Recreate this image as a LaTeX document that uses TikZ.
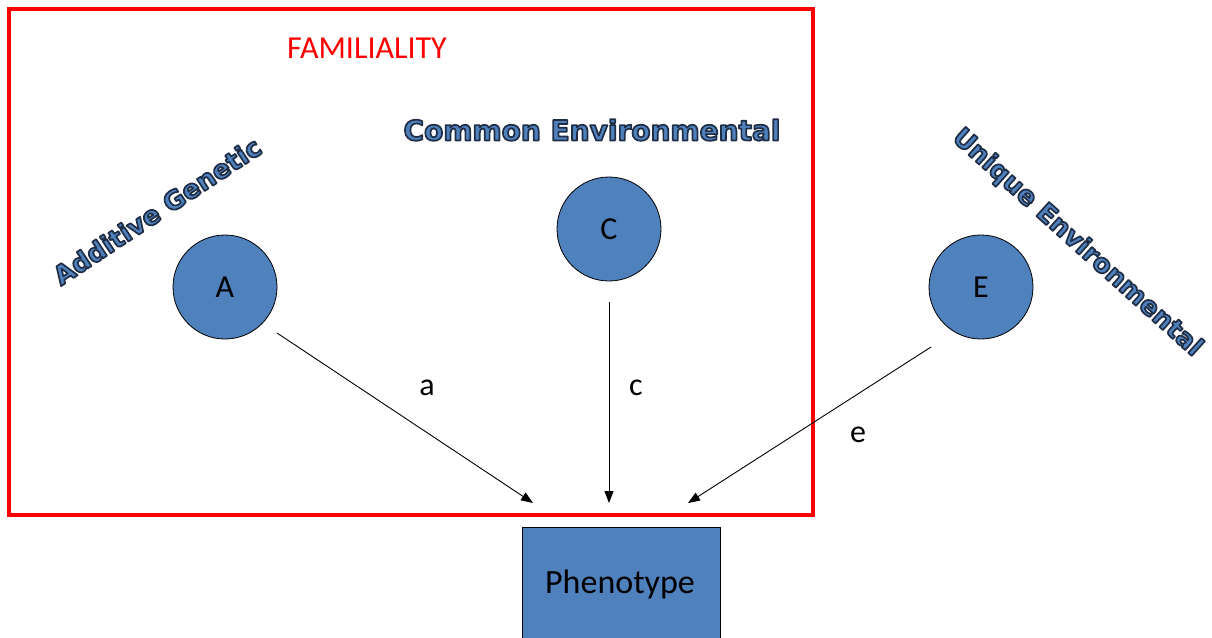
\documentclass[tikz,border=0pt]{standalone}
\usepackage{fontspec}
\setmainfont{Carlito}
\newfontfamily\artfont{DejaVu Sans}[BoldFont={DejaVu Sans Bold}]
\usetikzlibrary{arrows.meta}
\definecolor{offblue}{HTML}{4F81BD}
\definecolor{artedge}{HTML}{1F2F45}
\definecolor{famred}{HTML}{FF0000}
\tikzset{
  factor/.style={circle,draw=black,line width=0.8pt,fill=offblue,minimum size=104pt,inner sep=0pt,font=\fontsize{32}{36}\selectfont},
  pheno/.style={rectangle,draw=black,line width=0.8pt,fill=offblue,minimum width=198pt,minimum height=120pt,inner sep=0pt},
  conn/.style={draw=black,line width=0.9pt,-{Triangle[length=12pt,width=9pt]}},
  plabel/.style={font=\fontsize{32}{36}\selectfont},
  art/.style={font=\artfont\bfseries\fontsize{26}{30}\selectfont,inner sep=0pt},
  fam/.style={draw=famred,line width=4pt}
}
\newcommand{\arttext}[1]{\textcolor{offblue}{\special{pdf:code 2 Tr 1.7 w 1 j 0.12 0.18 0.27 RG}#1\special{pdf:code 0 Tr}}}
\begin{document}
\begin{tikzpicture}[x=1pt,y=-1pt]
\useasboundingbox (0,0) rectangle (1212,637);
\fill[white] (0,0) rectangle (1212,637);
% familiality box
\draw[fam] (9,9) rectangle (813,515);
\node[text=famred,font=\fontsize{32}{36}\selectfont] (famlab) at (367,48) {FAMILIALITY};
% phenotype box (cut at bottom edge)
\begin{scope}
\clip (0,0) rectangle (1212,637);
\node[pheno] (P) at (621,587) {};
\end{scope}
\node[font=\fontsize{34}{38}\selectfont] (ptext) at (620,584) {Phenotype};
% factors
\node[factor] (A) at (225,287) {A};
\node[factor] (C) at (609,229) {C};
\node[factor] (E) at (981,287) {E};
% wordart labels
\node[art,rotate=33.5] (artA) at (157,211) {\arttext{Additive Genetic}};
\node[art,font=\artfont\bfseries\fontsize{28}{32}\selectfont] (artC) at (592,130) {\arttext{Common Environmental}};
\node[art,rotate=-42] (artE) at (1077,243) {\arttext{Unique Environmental}};
% connector end points
\coordinate (a0) at (277,333);
\coordinate (a1) at (533,503);
\coordinate (c0) at (609,302);
\coordinate (c1) at (609,503);
\coordinate (e0) at (931,347);
\coordinate (e1) at (688,503);
\draw[conn] (a0) -- (a1);
\draw[conn] (c0) -- (c1);
\draw[conn] (e0) -- (e1);
\node[plabel] (la) at (427,388) {a};
\node[plabel] (lc) at (636,388) {c};
\node[plabel] (le) at (858,435) {e};
\end{tikzpicture}
\end{document}
